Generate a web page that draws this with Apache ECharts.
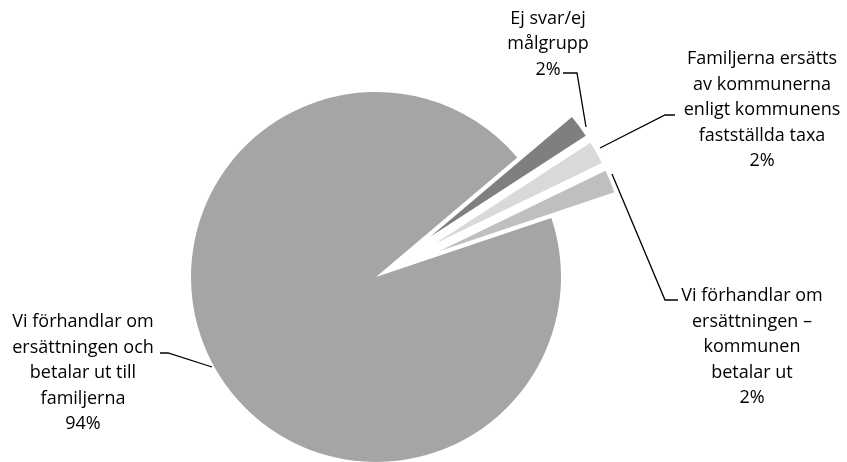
<!DOCTYPE html>
<html>
<head>
<meta charset="utf-8">
<script src="https://cdn.jsdelivr.net/npm/echarts@6/dist/echarts.min.js"></script>
<style>
html,body{margin:0;padding:0;background:#fff;}
#chart{width:847px;height:462px;}
</style>
</head>
<body>
<div id="chart"></div>
<script>
const categories = [
  'Vi förhandlar om\nersättningen och\nbetalar ut till\nfamiljerna',
  'Ej svar/ej\nmålgrupp',
  'Familjerna ersätts\nav kommunerna\nenligt kommunens\nfastställda taxa',
  'Vi förhandlar om\nersättningen –\nkommunen\nbetalar ut'
];
const values = [94, 2, 2, 2];
const colors = ['#a5a5a5', '#7f7f7f', '#d9d9d9', '#bfbfbf'];
const exploded = [false, true, true, true];

// layout only
const CX = 376, CY = 277, R = 185, START = 18.6, EXPLODE = 68;
const labelPos = [
  {x: 83, y: 373},
  {x: 548, y: 44},
  {x: 762, y: 110},
  {x: 752, y: 347}
];
const linePts = [
  [[212, 367], [168, 353], [160, 353]],
  [[586, 127], [577, 73], [563, 73]],
  [[600, 148], [665, 115], [675, 115]],
  [[612, 174], [665, 300], [678, 300]]
];

const total = values.reduce((a, b) => a + b, 0);
function midAngle(i) {
  let before = 0;
  for (let k = 0; k < i; k++) before += values[k];
  return (START - (before + values[i] / 2) / total * 360) * Math.PI / 180;
}

const series = values.map((v, idx) => {
  const a = midAngle(idx);
  const off = exploded[idx] ? EXPLODE : 0;
  return {
    type: 'pie',
    center: [CX + off * Math.cos(a), CY - off * Math.sin(a)],
    radius: R,
    startAngle: START,
    clockwise: true,
    silent: true,
    emphasis: {disabled: true},
    itemStyle: {borderWidth: 0},
    label: {
      show: true,
      position: 'outside',
      formatter: p => p.name + '\n' + p.value + '%',
      color: '#000',
      fontFamily: 'Open Sans',
      fontSize: 18,
      lineHeight: 25.5,
      align: 'center'
    },
    labelLine: {show: true, lineStyle: {color: '#000', width: 1.3}},
    labelLayout: function (params) {
      const i = params.dataIndex;
      return {
        x: labelPos[i].x,
        y: labelPos[i].y,
        align: 'center',
        verticalAlign: 'middle',
        labelLinePoints: linePts[i]
      };
    },
    data: categories.map((c, i) => ({
      name: c,
      value: values[i],
      itemStyle: {color: i === idx ? colors[i] : 'rgba(0,0,0,0)'},
      label: {show: i === idx},
      labelLine: {show: i === idx}
    }))
  };
});

const chart = echarts.init(document.getElementById('chart'));
chart.setOption({animation: false, series: series});
</script>
</body>
</html>
